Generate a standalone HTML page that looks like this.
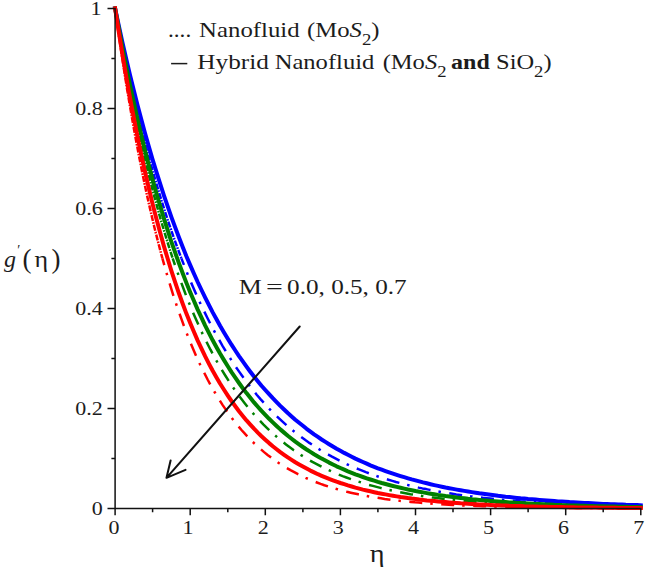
<!DOCTYPE html>
<html><head><meta charset="utf-8"><title>chart</title>
<style>
html,body{margin:0;padding:0;background:#fff;}
body{width:645px;height:569px;overflow:hidden;}
svg{display:block;}
text{font-family:"Liberation Serif",serif;fill:#1c1c1c;}
.tk{font-size:19.5px;}
</style></head><body>
<svg width="645" height="569" viewBox="0 0 645 569">
<rect width="645" height="569" fill="#fff"/>

<g fill="none" stroke-linejoin="round">
<path d="M115.1 8.4 L118.9 26.1 L122.6 43.1 L126.4 59.6 L130.1 75.5 L133.9 90.8 L137.6 105.6 L141.4 119.8 L145.1 133.5 L148.9 146.8 L152.6 159.6 L156.4 171.9 L160.2 183.8 L163.9 195.3 L167.7 206.4 L171.4 217.1 L175.2 227.4 L178.9 237.3 L182.7 246.9 L186.4 256.2 L190.2 265.1 L194.0 273.7 L197.7 282.0 L201.5 290.0 L205.2 297.7 L209.0 305.2 L212.7 312.4 L216.5 319.3 L220.2 326.0 L224.0 332.4 L227.8 338.7 L231.5 344.7 L235.3 350.5 L239.0 356.1 L242.8 361.4 L246.5 366.6 L250.3 371.7 L254.0 376.5 L257.8 381.2 L261.5 385.7 L265.3 390.0 L269.1 394.2 L272.8 398.2 L276.6 402.1 L280.3 405.9 L284.1 409.5 L287.8 413.0 L291.6 416.4 L295.3 419.7 L299.1 422.8 L302.9 425.8 L306.6 428.8 L310.4 431.6 L314.1 434.3 L317.9 436.9 L321.6 439.5 L325.4 441.9 L329.1 444.2 L332.9 446.5 L336.6 448.7 L340.4 450.8 L344.2 452.9 L347.9 454.8 L351.7 456.7 L355.4 458.6 L359.2 460.3 L362.9 462.0 L366.7 463.7 L370.4 465.3 L374.2 466.8 L377.9 468.3 L381.7 469.7 L385.5 471.1 L389.2 472.4 L393.0 473.7 L396.7 474.9 L400.5 476.1 L404.2 477.2 L408.0 478.3 L411.7 479.4 L415.5 480.4 L419.3 481.4 L423.0 482.4 L426.8 483.3 L430.5 484.2 L434.3 485.1 L438.0 485.9 L441.8 486.7 L445.5 487.5 L449.3 488.2 L453.0 488.9 L456.8 489.6 L460.6 490.3 L464.3 490.9 L468.1 491.5 L471.8 492.1 L475.6 492.7 L479.3 493.3 L483.1 493.8 L486.8 494.3 L490.6 494.8 L494.4 495.3 L498.1 495.8 L501.9 496.2 L505.6 496.7 L509.4 497.1 L513.1 497.5 L516.9 497.9 L520.6 498.3 L524.4 498.6 L528.1 499.0 L531.9 499.3 L535.7 499.6 L539.4 499.9 L543.2 500.2 L546.9 500.5 L550.7 500.8 L554.4 501.1 L558.2 501.4 L561.9 501.6 L565.7 501.8 L569.5 502.1 L573.2 502.3 L577.0 502.5 L580.7 502.7 L584.5 502.9 L588.2 503.1 L592.0 503.3 L595.7 503.5 L599.5 503.7 L603.2 503.9 L607.0 504.0 L610.8 504.2 L614.5 504.3 L618.3 504.5 L622.0 504.6 L625.8 504.8 L629.5 504.9 L633.3 505.0 L637.0 505.1 L640.8 505.3" stroke="#0000ff" stroke-width="4" stroke-linecap="square"/>
<path d="M115.1 8.4 L119.0 28.4 L122.9 47.6 L126.8 66.0 L130.7 83.7 L134.6 100.6 L138.5 116.9 L142.4 132.6 L146.3 147.6 L150.2 162.0 L154.1 175.9 L158.0 189.1 L161.9 201.9 L165.8 214.2 L169.7 225.9 L173.6 237.2 L177.5 248.0 L181.4 258.4" stroke="#0000ff" stroke-width="2.5" stroke-dasharray="6 1.2 1.6 1.2"/>
<path d="M181.4 258.4 L185.2 268.1 L188.9 277.4 L192.7 286.3 L196.5 294.9 L200.2 303.1 L204.0 311.0 L207.8 318.7 L211.5 326.0 L215.3 333.0 L219.1 339.8 L222.8 346.3 L226.6 352.6 L230.4 358.6 L234.1 364.4 L237.9 369.9 L241.7 375.3 L245.4 380.4 L249.2 385.4 L253.0 390.1 L256.7 394.7 L260.5 399.1 L264.3 403.3 L268.0 407.4 L271.8 411.3 L275.5 415.0 L279.3 418.6 L283.1 422.1 L286.8 425.4 L290.6 428.6 L294.4 431.7 L298.1 434.7 L301.9 437.5 L305.7 440.3 L309.4 442.9 L313.2 445.4 L317.0 447.9 L320.7 450.2 L324.5 452.5 L328.3 454.6 L332.0 456.7 L335.8 458.7 L339.6 460.6 L343.3 462.5 L347.1 464.3 L350.9 466.0 L354.6 467.6 L358.4 469.2 L362.2 470.7 L365.9 472.2 L369.7 473.6 L373.5 474.9 L377.2 476.2 L381.0 477.4 L384.7 478.6 L388.5 479.8 L392.3 480.9 L396.0 482.0 L399.8 483.0 L403.6 484.0 L407.3 484.9 L411.1 485.8 L414.9 486.7 L418.6 487.6 L422.4 488.4 L426.2 489.1 L429.9 489.9 L433.7 490.6 L437.5 491.3 L441.2 492.0 L445.0 492.6 L448.8 493.2 L452.5 493.8 L456.3 494.4 L460.1 494.9 L463.8 495.4 L467.6 495.9 L471.4 496.4 L475.1 496.9 L478.9 497.3 L482.7 497.8 L486.4 498.2 L490.2 498.6 L493.9 499.0 L497.7 499.3 L501.5 499.7 L505.2 500.0 L509.0 500.4 L512.8 500.7 L516.5 501.0 L520.3 501.3 L524.1 501.5 L527.8 501.8 L531.6 502.1 L535.4 502.3 L539.1 502.6 L542.9 502.8 L546.7 503.0 L550.4 503.2 L554.2 503.4 L558.0 503.6 L561.7 503.8 L565.5 504.0 L569.3 504.2 L573.0 504.3 L576.8 504.5 L580.6 504.6 L584.3 504.8 L588.1 504.9 L591.8 505.1 L595.6 505.2 L599.4 505.3 L603.1 505.5 L606.9 505.6 L610.7 505.7 L614.4 505.8 L618.2 505.9 L622.0 506.0 L625.7 506.1 L629.5 506.2 L633.3 506.3 L637.0 506.4 L640.8 506.4" stroke="#0000ff" stroke-width="2.5" stroke-dasharray="13 8 2.5 8.5" stroke-dashoffset="6"/>
<path d="M115.1 8.4 L118.9 28.9 L122.6 48.6 L126.4 67.5 L130.1 85.6 L133.9 102.9 L137.6 119.6 L141.4 135.5 L145.1 150.8 L148.9 165.5 L152.6 179.6 L156.4 193.1 L160.2 206.0 L163.9 218.4 L167.7 230.3 L171.4 241.8 L175.2 252.7 L178.9 263.2 L182.7 273.3 L186.4 282.9 L190.2 292.2 L194.0 301.0 L197.7 309.6 L201.5 317.7 L205.2 325.6 L209.0 333.1 L212.7 340.3 L216.5 347.2 L220.2 353.8 L224.0 360.1 L227.8 366.2 L231.5 372.1 L235.3 377.7 L239.0 383.0 L242.8 388.2 L246.5 393.1 L250.3 397.8 L254.0 402.4 L257.8 406.7 L261.5 410.9 L265.3 414.9 L269.1 418.8 L272.8 422.4 L276.6 426.0 L280.3 429.4 L284.1 432.6 L287.8 435.7 L291.6 438.7 L295.3 441.6 L299.1 444.3 L302.9 447.0 L306.6 449.5 L310.4 451.9 L314.1 454.2 L317.9 456.4 L321.6 458.6 L325.4 460.6 L329.1 462.6 L332.9 464.5 L336.6 466.3 L340.4 468.0 L344.2 469.7 L347.9 471.3 L351.7 472.8 L355.4 474.3 L359.2 475.7 L362.9 477.0 L366.7 478.3 L370.4 479.5 L374.2 480.7 L377.9 481.9 L381.7 483.0 L385.5 484.0 L389.2 485.0 L393.0 486.0 L396.7 486.9 L400.5 487.8 L404.2 488.6 L408.0 489.5 L411.7 490.2 L415.5 491.0 L419.3 491.7 L423.0 492.4 L426.8 493.1 L430.5 493.7 L434.3 494.3 L438.0 494.9 L441.8 495.4 L445.5 496.0 L449.3 496.5 L453.0 497.0 L456.8 497.5 L460.6 497.9 L464.3 498.3 L468.1 498.8 L471.8 499.2 L475.6 499.5 L479.3 499.9 L483.1 500.3 L486.8 500.6 L490.6 500.9 L494.4 501.2 L498.1 501.5 L501.9 501.8 L505.6 502.1 L509.4 502.4 L513.1 502.6 L516.9 502.9 L520.6 503.1 L524.4 503.3 L528.1 503.5 L531.9 503.7 L535.7 503.9 L539.4 504.1 L543.2 504.3 L546.9 504.5 L550.7 504.6 L554.4 504.8 L558.2 504.9 L561.9 505.1 L565.7 505.2 L569.5 505.4 L573.2 505.5 L577.0 505.6 L580.7 505.7 L584.5 505.8 L588.2 506.0 L592.0 506.1 L595.7 506.2 L599.5 506.3 L603.2 506.3 L607.0 506.4 L610.8 506.5 L614.5 506.6 L618.3 506.7 L622.0 506.8 L625.8 506.8 L629.5 506.9 L633.3 507.0 L637.0 507.0 L640.8 507.1" stroke="#008000" stroke-width="4" stroke-linecap="square"/>
<path d="M115.1 8.4 L118.9 31.0 L122.8 52.5 L126.6 73.1 L130.5 92.8 L134.3 111.6 L138.2 129.5 L142.0 146.6 L145.8 163.0 L149.7 178.6 L153.5 193.5 L157.4 207.7 L161.2 221.3 L165.1 234.2 L168.9 246.6 L172.7 258.4" stroke="#008000" stroke-width="2.5" stroke-dasharray="6 1.2 1.6 1.2"/>
<path d="M172.7 258.4 L176.5 269.5 L180.3 280.1 L184.1 290.3 L187.8 300.0 L191.6 309.2 L195.4 318.1 L199.2 326.5 L202.9 334.6 L206.7 342.3 L210.5 349.7 L214.3 356.7 L218.0 363.5 L221.8 369.9 L225.6 376.0 L229.4 381.9 L233.1 387.5 L236.9 392.9 L240.7 398.0 L244.5 402.9 L248.2 407.6 L252.0 412.1 L255.8 416.4 L259.6 420.5 L263.3 424.4 L267.1 428.1 L270.9 431.7 L274.7 435.1 L278.4 438.3 L282.2 441.4 L286.0 444.4 L289.8 447.3 L293.5 450.0 L297.3 452.6 L301.1 455.1 L304.9 457.4 L308.6 459.7 L312.4 461.9 L316.2 463.9 L320.0 465.9 L323.7 467.8 L327.5 469.6 L331.3 471.3 L335.1 473.0 L338.8 474.6 L342.6 476.1 L346.4 477.5 L350.2 478.9 L353.9 480.2 L357.7 481.4 L361.5 482.6 L365.3 483.8 L369.0 484.9 L372.8 485.9 L376.6 486.9 L380.4 487.9 L384.1 488.8 L387.9 489.7 L391.7 490.5 L395.4 491.3 L399.2 492.1 L403.0 492.8 L406.8 493.5 L410.5 494.2 L414.3 494.8 L418.1 495.4 L421.9 496.0 L425.6 496.5 L429.4 497.1 L433.2 497.6 L437.0 498.1 L440.7 498.5 L444.5 499.0 L448.3 499.4 L452.1 499.8 L455.8 500.2 L459.6 500.6 L463.4 500.9 L467.2 501.2 L470.9 501.6 L474.7 501.9 L478.5 502.2 L482.3 502.5 L486.0 502.7 L489.8 503.0 L493.6 503.2 L497.4 503.5 L501.1 503.7 L504.9 503.9 L508.7 504.1 L512.5 504.3 L516.2 504.5 L520.0 504.7 L523.8 504.8 L527.6 505.0 L531.3 505.1 L535.1 505.3 L538.9 505.4 L542.7 505.6 L546.4 505.7 L550.2 505.8 L554.0 505.9 L557.8 506.1 L561.5 506.2 L565.3 506.3 L569.1 506.4 L572.9 506.5 L576.6 506.6 L580.4 506.6 L584.2 506.7 L588.0 506.8 L591.7 506.9 L595.5 506.9 L599.3 507.0 L603.1 507.1 L606.8 507.1 L610.6 507.2 L614.4 507.3 L618.2 507.3 L621.9 507.4 L625.7 507.4 L629.5 507.5 L633.3 507.5 L637.0 507.6 L640.8 507.6" stroke="#008000" stroke-width="2.5" stroke-dasharray="13 8 2.5 8.5" stroke-dashoffset="6"/>
<path d="M115.1 8.4 L118.9 32.6 L122.6 55.6 L126.4 77.5 L130.1 98.4 L133.9 118.2 L137.6 137.1 L141.4 155.1 L145.1 172.2 L148.9 188.5 L152.6 204.0 L156.4 218.7 L160.2 232.7 L163.9 246.1 L167.7 258.8 L171.4 270.8 L175.2 282.3 L178.9 293.3 L182.7 303.7 L186.4 313.6 L190.2 323.0 L194.0 332.0 L197.7 340.6 L201.5 348.7 L205.2 356.4 L209.0 363.8 L212.7 370.8 L216.5 377.4 L220.2 383.8 L224.0 389.8 L227.8 395.6 L231.5 401.0 L235.3 406.2 L239.0 411.2 L242.8 415.9 L246.5 420.4 L250.3 424.6 L254.0 428.7 L257.8 432.6 L261.5 436.2 L265.3 439.7 L269.1 443.1 L272.8 446.2 L276.6 449.2 L280.3 452.1 L284.1 454.8 L287.8 457.4 L291.6 459.9 L295.3 462.3 L299.1 464.5 L302.9 466.6 L306.6 468.6 L310.4 470.6 L314.1 472.4 L317.9 474.2 L321.6 475.8 L325.4 477.4 L329.1 478.9 L332.9 480.3 L336.6 481.7 L340.4 483.0 L344.2 484.2 L347.9 485.4 L351.7 486.5 L355.4 487.6 L359.2 488.6 L362.9 489.6 L366.7 490.5 L370.4 491.3 L374.2 492.2 L377.9 493.0 L381.7 493.7 L385.5 494.4 L389.2 495.1 L393.0 495.8 L396.7 496.4 L400.5 497.0 L404.2 497.5 L408.0 498.1 L411.7 498.6 L415.5 499.0 L419.3 499.5 L423.0 499.9 L426.8 500.4 L430.5 500.7 L434.3 501.1 L438.0 501.5 L441.8 501.8 L445.5 502.1 L449.3 502.4 L453.0 502.7 L456.8 503.0 L460.6 503.3 L464.3 503.5 L468.1 503.8 L471.8 504.0 L475.6 504.2 L479.3 504.4 L483.1 504.6 L486.8 504.8 L490.6 505.0 L494.4 505.2 L498.1 505.3 L501.9 505.5 L505.6 505.6 L509.4 505.8 L513.1 505.9 L516.9 506.0 L520.6 506.1 L524.4 506.3 L528.1 506.4 L531.9 506.5 L535.7 506.6 L539.4 506.7 L543.2 506.7 L546.9 506.8 L550.7 506.9 L554.4 507.0 L558.2 507.1 L561.9 507.1 L565.7 507.2 L569.5 507.3 L573.2 507.3 L577.0 507.4 L580.7 507.4 L584.5 507.5 L588.2 507.5 L592.0 507.6 L595.7 507.6 L599.5 507.7 L603.2 507.7 L607.0 507.7 L610.8 507.8 L614.5 507.8 L618.3 507.9 L622.0 507.9 L625.8 507.9 L629.5 507.9 L633.3 508.0 L637.0 508.0 L640.8 508.0" stroke="#ff0000" stroke-width="4" stroke-linecap="square"/>
<path d="M115.1 8.4 L119.0 36.5 L123.0 63.0 L126.9 88.0 L130.9 111.6 L134.8 133.8 L138.8 154.9 L142.7 174.7 L146.6 193.5 L150.6 211.1 L154.5 227.8 L158.5 243.6 L162.4 258.4" stroke="#ff0000" stroke-width="2.5" stroke-dasharray="6 1.2 1.6 1.2"/>
<path d="M162.4 258.4 L166.2 271.9 L170.0 284.6 L173.7 296.6 L177.5 308.0 L181.3 318.7 L185.0 328.9 L188.8 338.6 L192.6 347.7 L196.3 356.3 L200.1 364.5 L203.9 372.2 L207.6 379.5 L211.4 386.5 L215.2 393.0 L218.9 399.2 L222.7 405.1 L226.5 410.6 L230.2 415.9 L234.0 420.8 L237.8 425.6 L241.5 430.0 L245.3 434.2 L249.1 438.2 L252.8 442.0 L256.6 445.5 L260.4 448.9 L264.1 452.1 L267.9 455.2 L271.7 458.0 L275.4 460.7 L279.2 463.3 L283.0 465.7 L286.7 468.0 L290.5 470.2 L294.3 472.2 L298.0 474.2 L301.8 476.0 L305.6 477.8 L309.3 479.4 L313.1 481.0 L316.9 482.5 L320.6 483.9 L324.4 485.2 L328.2 486.4 L331.9 487.6 L335.7 488.7 L339.5 489.8 L343.2 490.8 L347.0 491.8 L350.8 492.7 L354.5 493.5 L358.3 494.3 L362.1 495.1 L365.8 495.8 L369.6 496.5 L373.4 497.1 L377.1 497.7 L380.9 498.3 L384.7 498.9 L388.4 499.4 L392.2 499.9 L396.0 500.3 L399.7 500.8 L403.5 501.2 L407.3 501.6 L411.0 501.9 L414.8 502.3 L418.6 502.6 L422.3 502.9 L426.1 503.2 L429.9 503.5 L433.6 503.8 L437.4 504.0 L441.2 504.3 L444.9 504.5 L448.7 504.7 L452.5 504.9 L456.2 505.1 L460.0 505.3 L463.8 505.5 L467.5 505.6 L471.3 505.8 L475.1 505.9 L478.8 506.1 L482.6 506.2 L486.4 506.3 L490.1 506.4 L493.9 506.6 L497.7 506.7 L501.4 506.8 L505.2 506.8 L509.0 506.9 L512.7 507.0 L516.5 507.1 L520.3 507.2 L524.0 507.2 L527.8 507.3 L531.6 507.4 L535.3 507.4 L539.1 507.5 L542.9 507.5 L546.6 507.6 L550.4 507.6 L554.2 507.7 L557.9 507.7 L561.7 507.8 L565.5 507.8 L569.2 507.9 L573.0 507.9 L576.8 507.9 L580.5 508.0 L584.3 508.0 L588.1 508.0 L591.8 508.0 L595.6 508.1 L599.4 508.1 L603.1 508.1 L606.9 508.1 L610.7 508.1 L614.4 508.2 L618.2 508.2 L622.0 508.2 L625.7 508.2 L629.5 508.2 L633.3 508.2 L637.0 508.3 L640.8 508.3" stroke="#ff0000" stroke-width="2.5" stroke-dasharray="13 8 2.5 8.5" stroke-dashoffset="6"/>
</g>
<path d="M115.1 7.7 V509.2 M114.4 508.5 H641.5 M115.1 508.5 h-7.6 M115.1 458.5 h-3.7 M115.1 408.5 h-7.6 M115.1 358.5 h-3.7 M115.1 308.5 h-7.6 M115.1 258.4 h-3.7 M115.1 208.4 h-7.6 M115.1 158.4 h-3.7 M115.1 108.4 h-7.6 M115.1 58.4 h-3.7 M115.1 8.4 h-7.6 M115.1 508.5 v6.8 M152.6 508.5 v3.7 M190.2 508.5 v6.8 M227.8 508.5 v3.7 M265.3 508.5 v6.8 M302.9 508.5 v3.7 M340.4 508.5 v6.8 M377.9 508.5 v3.7 M415.5 508.5 v6.8 M453.0 508.5 v3.7 M490.6 508.5 v6.8 M528.1 508.5 v3.7 M565.7 508.5 v6.8 M603.2 508.5 v3.7 M640.8 508.5 v6.8" stroke="#111" stroke-width="1.5" fill="none"/>
<text class="tk" transform="translate(102.8 515.0) scale(1.130 1)" text-anchor="end">0</text>
<text class="tk" transform="translate(102.8 415.0) scale(1.130 1)" text-anchor="end">0.2</text>
<text class="tk" transform="translate(102.8 315.0) scale(1.130 1)" text-anchor="end">0.4</text>
<text class="tk" transform="translate(102.8 214.9) scale(1.130 1)" text-anchor="end">0.6</text>
<text class="tk" transform="translate(102.8 114.9) scale(1.130 1)" text-anchor="end">0.8</text>
<text class="tk" transform="translate(101.6 14.9) scale(1.130 1)" text-anchor="end">1</text>
<text class="tk" transform="translate(114.1 534.0) scale(1.130 1)" text-anchor="middle">0</text>
<text class="tk" transform="translate(188.1 534.0) scale(1.130 1)" text-anchor="middle">1</text>
<text class="tk" transform="translate(263.2 534.0) scale(1.130 1)" text-anchor="middle">2</text>
<text class="tk" transform="translate(338.3 534.0) scale(1.130 1)" text-anchor="middle">3</text>
<text class="tk" transform="translate(413.4 534.0) scale(1.130 1)" text-anchor="middle">4</text>
<text class="tk" transform="translate(488.5 534.0) scale(1.130 1)" text-anchor="middle">5</text>
<text class="tk" transform="translate(563.6 534.0) scale(1.130 1)" text-anchor="middle">6</text>
<text class="tk" transform="translate(638.7 534.0) scale(1.130 1)" text-anchor="middle">7</text>
<text transform="translate(167.99 37.0) scale(1.105 1)" font-size="21" >....</text>
<text transform="translate(199.12 37.0) scale(1.180 1)" font-size="21" >Nanofluid</text>
<text transform="translate(306.92 37.0) scale(1.178 1)" font-size="21" >(Mo<tspan font-style="italic">S</tspan><tspan font-size="16" dy="7.6">2</tspan><tspan dy="-7.6">)</tspan></text>
<text transform="translate(197.30 69.2) scale(1.203 1)" font-size="21" >Hybrid</text>
<text transform="translate(274.63 69.2) scale(1.171 1)" font-size="21" >Nanofluid</text>
<text transform="translate(382.63 69.2) scale(1.168 1)" font-size="21" >(Mo<tspan font-style="italic">S</tspan><tspan font-size="16" dy="7.6">2</tspan></text>
<text transform="translate(451.06 69.2) scale(1.142 1)" font-size="21" font-weight="bold">and</text>
<text transform="translate(496.03 69.2) scale(1.165 1)" font-size="21" >SiO<tspan font-size="16" dy="7.6">2</tspan><tspan dy="-7.6">)</tspan></text>
<text transform="translate(238.76 293.8) scale(1.235 1)" font-size="21" >M</text>
<text transform="translate(265.98 293.8) scale(1.420 1)" font-size="21" >=</text>
<text transform="translate(287.10 293.8) scale(1.199 1)" font-size="21" >0.0, 0.5, 0.7</text>
<text transform="translate(34.40 266.5) scale(1.083 1)" font-size="24" >η</text>
<text transform="translate(369.80 561.8) scale(1.133 1)" font-size="25" >η</text>
<path d="M171.1 63.6 H187.3" stroke="#1c1c1c" stroke-width="1.5"/>
<path d="M299.7 326.5 L166.5 477.8 M170.6 460.4 L166.5 477.8 L185.5 469.9" stroke="#111" stroke-width="2" fill="none" stroke-linecap="round" stroke-linejoin="round"/>
<text x="4" y="266.5" font-size="24" font-style="italic">g</text>
<text x="17.3" y="254.5" font-size="14">′</text>
<text x="22.5" y="268" font-size="27">(</text>
<text x="51.5" y="268" font-size="27">)</text>
</svg></body></html>
